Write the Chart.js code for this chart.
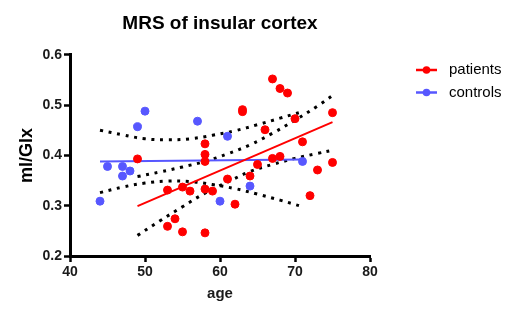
<!DOCTYPE html>
<html>
<head>
<meta charset="utf-8">
<script src="https://cdn.jsdelivr.net/npm/chart.js@4.4.1/dist/chart.umd.min.js"></script>
<style>
  html, body { margin: 0; padding: 0; background: #fff; }
  #wrap { width: 520px; height: 318px; position: relative; }
</style>
</head>
<body>
<div id="wrap"><canvas id="c" width="520" height="318"></canvas></div>
<script>
// ---- data ----
const patientAge = [49,53,53,54,55,55,56,58,58,58,58,58,59,61,62,63,63,64,65,66,67,67,68,68,69,70,71,72,73,75,75];
const patientVal = [0.393,0.331,0.259,0.274,0.337,0.248,0.329,0.423,0.402,0.388,0.333,0.246,0.329,0.353,0.303,0.491,0.487,0.359,0.382,0.451,0.552,0.394,0.533,0.398,0.524,0.473,0.427,0.320,0.371,0.485,0.386];

const controlAge = [44,45,47,47,48,49,50,57,60,61,64,71];
const controlVal = [0.309,0.378,0.378,0.359,0.369,0.457,0.488,0.468,0.309,0.438,0.339,0.388];

// regression lines
const patientFitX = [49, 75];
const patientFitY = [0.299, 0.466];
const controlFitX = [44, 71];
const controlFitY = [0.388, 0.392];

// 95% confidence bands
const patientBandX = [49,52,55,58,61,64,67,70,73,75];
const patientBandUpper = [0.358,0.367,0.377,0.388,0.403,0.421,0.444,0.470,0.498,0.519];
const patientBandLower = [0.241,0.270,0.298,0.325,0.347,0.368,0.382,0.394,0.404,0.410];
const controlBandX = [44,47,50,53,56,59,62,65,68,71];
const controlBandUpper = [0.450,0.441,0.433,0.431,0.433,0.440,0.449,0.461,0.474,0.487];
const controlBandLower = [0.326,0.337,0.345,0.349,0.348,0.342,0.334,0.323,0.311,0.298];

const xTicks = [40,50,60,70,80];
const yTicks = [0.2,0.3,0.4,0.5,0.6];

const RED = '#ff0000';
const BLUE = '#5757ff';
const FONT = '"Liberation Sans", Arial, Helvetica, sans-serif';

const pts = (xs, ys) => xs.map((x, i) => ({x: x, y: ys[i]}));

const bandStyle = {
  showLine: true, pointRadius: 0, borderColor: '#000', borderWidth: 3,
  borderDash: [3, 5.7], borderCapStyle: 'butt', fill: false, tension: 0.4
};

const legendPlugin = {
  id: 'customLegend',
  afterDraw(chart) {
    const ctx = chart.ctx;
    const items = [{label: 'patients', color: RED, y: 70}, {label: 'controls', color: BLUE, y: 92.5}];
    ctx.save();
    items.forEach(it => {
      ctx.strokeStyle = it.color;
      ctx.lineWidth = 2.5;
      ctx.beginPath();
      ctx.moveTo(416, it.y);
      ctx.lineTo(437, it.y);
      ctx.stroke();
      ctx.fillStyle = it.color;
      ctx.beginPath();
      ctx.arc(426.5, it.y, 3.8, 0, Math.PI * 2);
      ctx.fill();
      ctx.fillStyle = '#000';
      ctx.font = '15px ' + FONT;
      ctx.textBaseline = 'middle';
      ctx.textAlign = 'left';
      ctx.fillText(it.label, 449, it.y);
    });
    ctx.restore();
  }
};

new Chart(document.getElementById('c'), {
  type: 'scatter',
  data: {
    datasets: [
      {label: 'patients', data: pts(patientAge, patientVal), backgroundColor: RED, borderColor: RED, pointRadius: 4, pointHoverRadius: 4, showLine: false},
      {label: 'controls', data: pts(controlAge, controlVal), backgroundColor: BLUE, borderColor: BLUE, pointRadius: 4, pointHoverRadius: 4, showLine: false},
      {label: 'patients fit', data: pts(patientFitX, patientFitY), showLine: true, pointRadius: 0, borderColor: RED, borderWidth: 2},
      {label: 'controls fit', data: pts(controlFitX, controlFitY), showLine: true, pointRadius: 0, borderColor: BLUE, borderWidth: 2},
      Object.assign({label: 'patients upper', data: pts(patientBandX, patientBandUpper)}, bandStyle),
      Object.assign({label: 'patients lower', data: pts(patientBandX, patientBandLower)}, bandStyle),
      Object.assign({label: 'controls upper', data: pts(controlBandX, controlBandUpper)}, bandStyle),
      Object.assign({label: 'controls lower', data: pts(controlBandX, controlBandLower)}, bandStyle)
    ]
  },
  options: {
    responsive: false,
    animation: false,
    events: [],
    layout: { padding: { left: 0, right: 80, top: 0, bottom: 0 } },
    plugins: {
      legend: { display: false },
      tooltip: { enabled: false },
      title: {
        display: true,
        text: 'MRS of insular cortex',
        color: '#000',
        font: { family: FONT, size: 19, weight: 'bold' },
        padding: { top: 12, bottom: 20 }
      }
    },
    scales: {
      x: {
        type: 'linear', min: 40, max: 80,
        afterBuildTicks: (s) => { s.ticks = xTicks.map(v => ({value: v})); },
        afterFit: (s) => { s.height = 62; },
        border: { display: true, color: '#000', width: 3 },
        grid: { drawOnChartArea: false, drawTicks: true, tickLength: 6, tickColor: '#000', tickWidth: 2.5 },
        ticks: { color: '#1a1a1a', padding: 2, font: { family: FONT, size: 14, weight: 'bold' }, maxRotation: 0 },
        title: { display: true, text: 'age', color: '#1a1a1a', font: { family: FONT, size: 15, weight: 'bold' }, padding: { top: 0, bottom: 15 } }
      },
      y: {
        type: 'linear', min: 0.2, max: 0.6,
        afterBuildTicks: (s) => { s.ticks = yTicks.map(v => ({value: v})); },
        afterFit: (s) => { s.width = 70; },
        border: { display: true, color: '#000', width: 3 },
        grid: { drawOnChartArea: false, drawTicks: true, tickLength: 6, tickColor: '#000', tickWidth: 2.5 },
        ticks: { color: '#1a1a1a', padding: 2, font: { family: FONT, size: 14, weight: 'bold' }, callback: (v) => Number(v).toFixed(1) },
        title: { display: true, text: 'ml/Glx', color: '#000', font: { family: FONT, size: 18, weight: 'bold' }, padding: { top: 16, bottom: 0 } }
      },
      ySpace: {
        type: 'linear', axis: 'y', position: 'right', min: 0.2, max: 0.6,
        afterFit: (s) => { s.width = 70; },
        border: { display: false },
        grid: { display: false, drawTicks: false },
        ticks: { display: false },
        title: { display: false }
      }
    }
  },
  plugins: [legendPlugin]
});
</script>
</body>
</html>
